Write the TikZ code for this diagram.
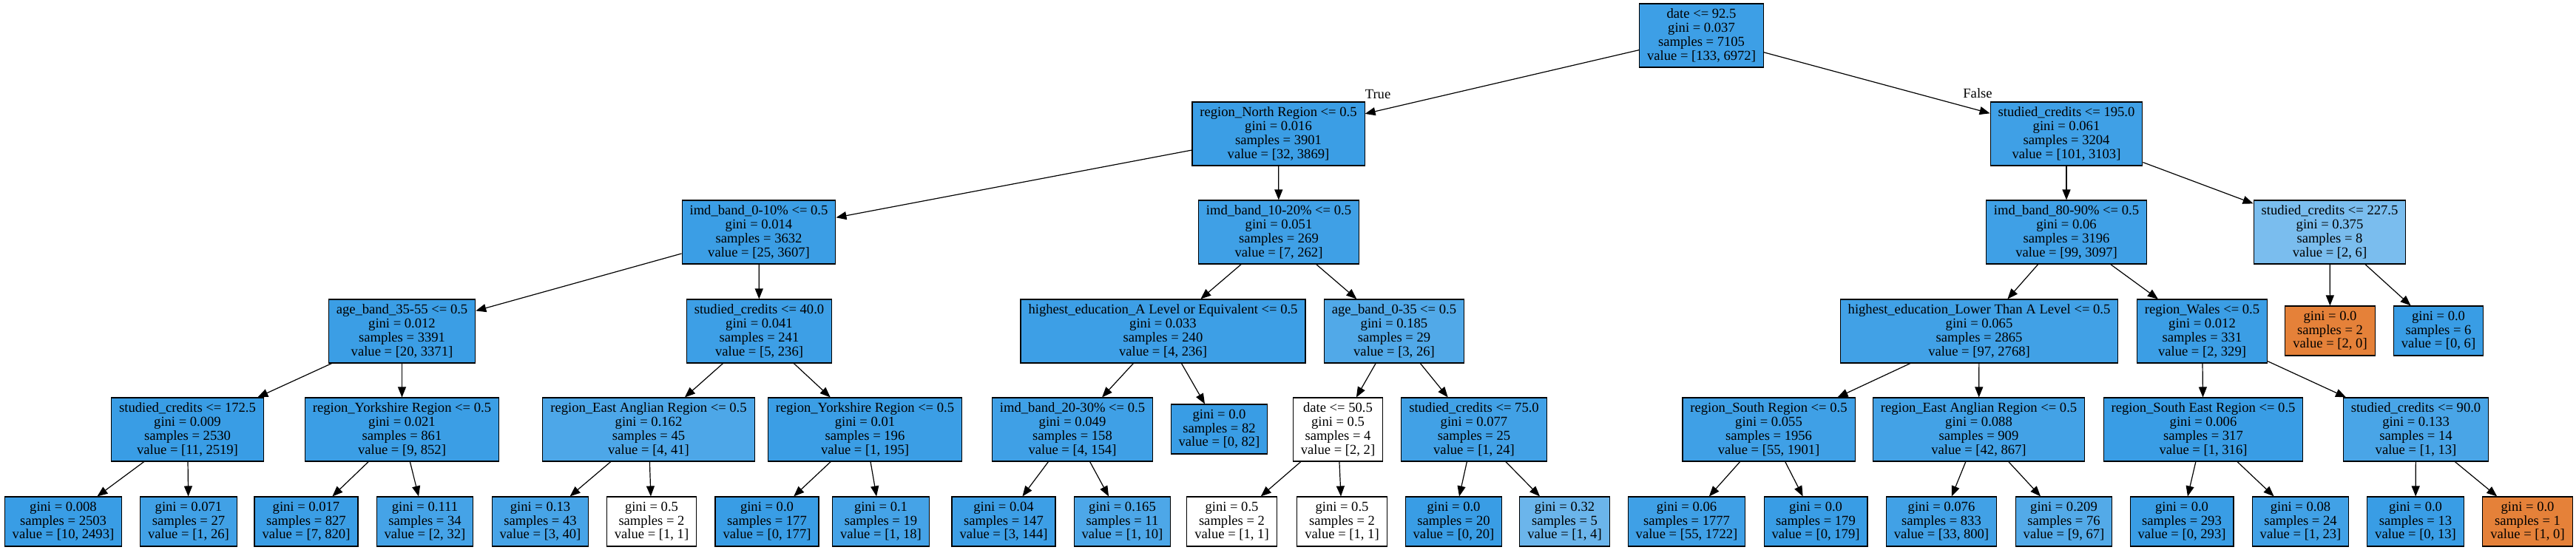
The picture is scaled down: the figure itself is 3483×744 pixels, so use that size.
\documentclass[tikz,border=0pt]{standalone}
\usepackage{fontspec}
\setmainfont{Liberation Serif}
\usetikzlibrary{arrows.meta}
\definecolor{gblue}{RGB}{57,157,229}
\definecolor{gorange}{RGB}{229,129,57}
\begin{document}
\begin{tikzpicture}[x=1pt,y=-1pt,
  treenode/.style={draw,line width=1.1pt,align=center,inner xsep=10.5pt,inner ysep=0pt,font=\fontsize{18.6}{18.7}\selectfont},
  split/.style={treenode,minimum height=86pt},
  leaf/.style={treenode,minimum height=67pt},
  branch/.style={line width=1.2pt,-{Triangle[length=14pt,width=11pt]}}]
\useasboundingbox (0,0) rectangle (3483,744);
\node (root) at (2300.5,48) [split,fill=gblue!98!white] {date <= 92.5\\gini = 0.037\\samples = 7105\\value = [133, 6972]};
\node (nreg) at (1728.5,181) [split,fill=gblue!99!white] {region\_North Region <= 0.5\\gini = 0.016\\samples = 3901\\value = [32, 3869]};
\node (ncred) at (2794,181) [split,fill=gblue!97!white] {studied\_credits <= 195.0\\gini = 0.061\\samples = 3204\\value = [101, 3103]};
\node (nimdA) at (1026,314) [split,fill=gblue!99!white] {imd\_band\_0-10\% <= 0.5\\gini = 0.014\\samples = 3632\\value = [25, 3607]};
\node (nimdB) at (1729,314) [split,fill=gblue!97!white] {imd\_band\_10-20\% <= 0.5\\gini = 0.051\\samples = 269\\value = [7, 262]};
\node (nimdC) at (2794,314) [split,fill=gblue!97!white] {imd\_band\_80-90\% <= 0.5\\gini = 0.06\\samples = 3196\\value = [99, 3097]};
\node (ncredB) at (3150,314) [split,fill=gblue!67!white] {studied\_credits <= 227.5\\gini = 0.375\\samples = 8\\value = [2, 6]};
\node (nage) at (543.5,448) [split,fill=gblue!99!white] {age\_band\_35-55 <= 0.5\\gini = 0.012\\samples = 3391\\value = [20, 3371]};
\node (ncredC) at (1026.5,448) [split,fill=gblue!98!white] {studied\_credits <= 40.0\\gini = 0.041\\samples = 241\\value = [5, 236]};
\node (nedA) at (1572.5,448) [split,fill=gblue!98!white] {highest\_education\_A Level or Equivalent <= 0.5\\gini = 0.033\\samples = 240\\value = [4, 236]};
\node (nageB) at (1885,448) [split,fill=gblue!88!white] {age\_band\_0-35 <= 0.5\\gini = 0.185\\samples = 29\\value = [3, 26]};
\node (nedB) at (2676,448) [split,fill=gblue!96!white] {highest\_education\_Lower Than A Level <= 0.5\\gini = 0.065\\samples = 2865\\value = [97, 2768]};
\node (nwales) at (2977.5,448) [split,fill=gblue!99!white] {region\_Wales <= 0.5\\gini = 0.012\\samples = 331\\value = [2, 329]};
\node (lfA) at (3150.5,447.5) [leaf,fill=gorange] {gini = 0.0\\samples = 2\\value = [2, 0]};
\node (lfB) at (3297,447.5) [leaf,fill=gblue] {gini = 0.0\\samples = 6\\value = [0, 6]};
\node (ncredD) at (253.5,581) [split,fill=gblue] {studied\_credits <= 172.5\\gini = 0.009\\samples = 2530\\value = [11, 2519]};
\node (nyorkA) at (543.5,581) [split,fill=gblue!99!white] {region\_Yorkshire Region <= 0.5\\gini = 0.021\\samples = 861\\value = [9, 852]};
\node (neastA) at (877,581) [split,fill=gblue!90!white] {region\_East Anglian Region <= 0.5\\gini = 0.162\\samples = 45\\value = [4, 41]};
\node (nyorkB) at (1169.5,581) [split,fill=gblue!99!white] {region\_Yorkshire Region <= 0.5\\gini = 0.01\\samples = 196\\value = [1, 195]};
\node (nimdD) at (1450,581) [split,fill=gblue!97!white] {imd\_band\_20-30\% <= 0.5\\gini = 0.049\\samples = 158\\value = [4, 154]};
\node (lfC) at (1648.5,580.5) [leaf,fill=gblue] {gini = 0.0\\samples = 82\\value = [0, 82]};
\node (ndate) at (1809,581) [split,fill=white] {date <= 50.5\\gini = 0.5\\samples = 4\\value = [2, 2]};
\node (ncredE) at (1993,581) [split,fill=gblue!96!white] {studied\_credits <= 75.0\\gini = 0.077\\samples = 25\\value = [1, 24]};
\node (nsouth) at (2391.5,581) [split,fill=gblue!97!white] {region\_South Region <= 0.5\\gini = 0.055\\samples = 1956\\value = [55, 1901]};
\node (neastB) at (2675.5,581) [split,fill=gblue!95!white] {region\_East Anglian Region <= 0.5\\gini = 0.088\\samples = 909\\value = [42, 867]};
\node (nseast) at (2979,581) [split,fill=gblue] {region\_South East Region <= 0.5\\gini = 0.006\\samples = 317\\value = [1, 316]};
\node (ncredF) at (3266.5,581) [split,fill=gblue!92!white] {studied\_credits <= 90.0\\gini = 0.133\\samples = 14\\value = [1, 13]};
\node (lf1) at (85.5,705.5) [leaf,fill=gblue] {gini = 0.008\\samples = 2503\\value = [10, 2493]};
\node (lf2) at (255,705.5) [leaf,fill=gblue!96!white] {gini = 0.071\\samples = 27\\value = [1, 26]};
\node (lf3) at (414,705.5) [leaf,fill=gblue!99!white] {gini = 0.017\\samples = 827\\value = [7, 820]};
\node (lf4) at (574.5,705.5) [leaf,fill=gblue!94!white] {gini = 0.111\\samples = 34\\value = [2, 32]};
\node (lf5) at (730.5,705.5) [leaf,fill=gblue!93!white] {gini = 0.13\\samples = 43\\value = [3, 40]};
\node (lf6) at (881,705.5) [leaf,fill=white] {gini = 0.5\\samples = 2\\value = [1, 1]};
\node (lf7) at (1037,705.5) [leaf,fill=gblue] {gini = 0.0\\samples = 177\\value = [0, 177]};
\node (lf8) at (1191,705.5) [leaf,fill=gblue!94!white] {gini = 0.1\\samples = 19\\value = [1, 18]};
\node (lf9) at (1357,705.5) [leaf,fill=gblue!98!white] {gini = 0.04\\samples = 147\\value = [3, 144]};
\node (lf10) at (1517.5,705.5) [leaf,fill=gblue!90!white] {gini = 0.165\\samples = 11\\value = [1, 10]};
\node (lf11) at (1665.5,705.5) [leaf,fill=white] {gini = 0.5\\samples = 2\\value = [1, 1]};
\node (lf12) at (1814.5,705.5) [leaf,fill=white] {gini = 0.5\\samples = 2\\value = [1, 1]};
\node (lf13) at (1965.5,705.5) [leaf,fill=gblue] {gini = 0.0\\samples = 20\\value = [0, 20]};
\node (lf14) at (2115.5,705.5) [leaf,fill=gblue!75!white] {gini = 0.32\\samples = 5\\value = [1, 4]};
\node (lf15) at (2280.5,705.5) [leaf,fill=gblue!97!white] {gini = 0.06\\samples = 1777\\value = [55, 1722]};
\node (lf16) at (2455,705.5) [leaf,fill=gblue] {gini = 0.0\\samples = 179\\value = [0, 179]};
\node (lf17) at (2625,705.5) [leaf,fill=gblue!96!white] {gini = 0.076\\samples = 833\\value = [33, 800]};
\node (lf18) at (2790.5,705.5) [leaf,fill=gblue!87!white] {gini = 0.209\\samples = 76\\value = [9, 67]};
\node (lf19) at (2950,705.5) [leaf,fill=gblue] {gini = 0.0\\samples = 293\\value = [0, 293]};
\node (lf20) at (3110.5,705.5) [leaf,fill=gblue!96!white] {gini = 0.08\\samples = 24\\value = [1, 23]};
\node (lf21) at (3266,705.5) [leaf,fill=gblue] {gini = 0.0\\samples = 13\\value = [0, 13]};
\node (lf22) at (3417.5,705.5) [leaf,fill=gorange] {gini = 0.0\\samples = 1\\value = [1, 0]};
\node (truelab) at (1863,127) [font=\fontsize{18.6}{18.7}\selectfont] {True};
\node (falselab) at (2674,126) [font=\fontsize{18.6}{18.7}\selectfont] {False};
\draw [branch] (root) -- (nreg);
\draw [branch] (root) -- (ncred);
\draw [branch] (nreg) -- (nimdA);
\draw [branch] (nreg) -- (nimdB);
\draw [branch] (ncred) -- (nimdC);
\draw [branch] (ncred) -- (ncredB);
\draw [branch] (nimdA) -- (nage);
\draw [branch] (nimdA) -- (ncredC);
\draw [branch] (nimdB) -- (nedA);
\draw [branch] (nimdB) -- (nageB);
\draw [branch] (nimdC) -- (nedB);
\draw [branch] (nimdC) -- (nwales);
\draw [branch] (ncredB) -- (lfA);
\draw [branch] (ncredB) -- (lfB);
\draw [branch] (nage) -- (ncredD);
\draw [branch] (nage) -- (nyorkA);
\draw [branch] (ncredC) -- (neastA);
\draw [branch] (ncredC) -- (nyorkB);
\draw [branch] (nedA) -- (nimdD);
\draw [branch] (nedA) -- (lfC);
\draw [branch] (nageB) -- (ndate);
\draw [branch] (nageB) -- (ncredE);
\draw [branch] (nedB) -- (nsouth);
\draw [branch] (nedB) -- (neastB);
\draw [branch] (nwales) -- (nseast);
\draw [branch] (nwales) -- (ncredF);
\draw [branch] (ncredD) -- (lf1);
\draw [branch] (ncredD) -- (lf2);
\draw [branch] (nyorkA) -- (lf3);
\draw [branch] (nyorkA) -- (lf4);
\draw [branch] (neastA) -- (lf5);
\draw [branch] (neastA) -- (lf6);
\draw [branch] (nyorkB) -- (lf7);
\draw [branch] (nyorkB) -- (lf8);
\draw [branch] (nimdD) -- (lf9);
\draw [branch] (nimdD) -- (lf10);
\draw [branch] (ndate) -- (lf11);
\draw [branch] (ndate) -- (lf12);
\draw [branch] (ncredE) -- (lf13);
\draw [branch] (ncredE) -- (lf14);
\draw [branch] (nsouth) -- (lf15);
\draw [branch] (nsouth) -- (lf16);
\draw [branch] (neastB) -- (lf17);
\draw [branch] (neastB) -- (lf18);
\draw [branch] (nseast) -- (lf19);
\draw [branch] (nseast) -- (lf20);
\draw [branch] (ncredF) -- (lf21);
\draw [branch] (ncredF) -- (lf22);
\end{tikzpicture}
\end{document}
